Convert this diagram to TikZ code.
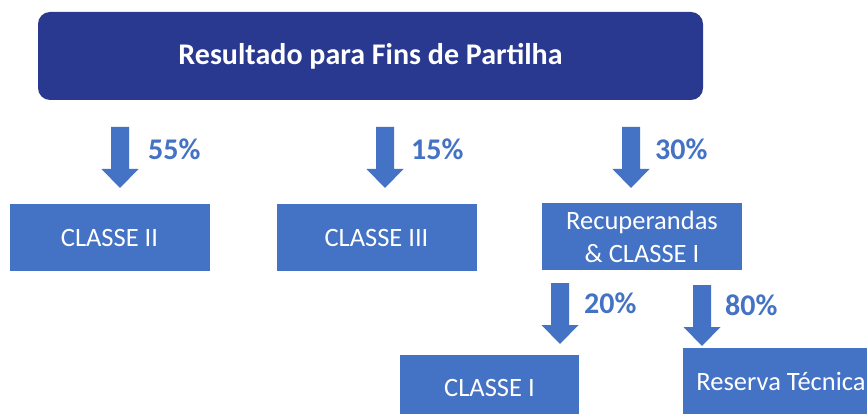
\documentclass[tikz,border=0pt]{standalone}
\usepackage{fontspec}
\setmainfont{Carlito}
\definecolor{darkb}{RGB}{41,57,143}
\definecolor{midb}{RGB}{68,114,196}
\tikzset{
  titlebox/.style={fill=darkb, text=white, rounded corners=12, inner sep=0,
    font=\fontsize{30}{36}\selectfont\bfseries},
  cbox/.style={fill=midb, text=white, inner sep=0, align=center,
    font=\fontsize{26.5}{33}\selectfont},
  pct/.style={text=midb, inner sep=0, anchor=base west,
    font=\fontsize{30}{36}\selectfont\bfseries},
  darrow/.pic={\fill[midb] (-9,0) -- (9,0) -- (9,42) -- (18.5,42) -- (0,61)
     -- (-18.5,42) -- (-9,42) -- cycle;}
}
\begin{document}
\begin{tikzpicture}[x=1pt,y=-1pt]
\useasboundingbox (0,0) rectangle (867,414);
\clip (0,0) rectangle (867,414);
\fill[white] (0,0) rectangle (867,414);
\node[titlebox, minimum width=665, minimum height=88] (t) at (370.5,56) {Resultado para Fins de Partilha};
\pic (a1) at (120,127) {darrow};
\pic (a2) at (385,127) {darrow};
\pic (a3) at (631,127) {darrow};
\node[pct] (p55) at (148,160) {55\%};
\node[pct] (p15) at (411,160) {15\%};
\node[pct] (p30) at (655,160) {30\%};
\node[cbox, minimum width=200, minimum height=67] (c2) at (109.5,237.5) {CLASSE II};
\node[cbox, minimum width=200, minimum height=67] (c3) at (376.5,237.5) {CLASSE III};
\node[cbox, minimum width=200, minimum height=67] (rc) at (642,236.5) {Recuperandas\\ \& CLASSE I};
\pic (a4) at (560,283) {darrow};
\pic (a5) at (702,285) {darrow};
\node[pct] (p20) at (584,313) {20\%};
\node[pct] (p80) at (725,315) {80\%};
\node[cbox, minimum width=179, minimum height=66] (c1) at (489.5,388) {CLASSE I};
\node[cbox, minimum width=196, minimum height=66] (rt) at (781,381) {Reserva Técnica};
\end{tikzpicture}
\end{document}
